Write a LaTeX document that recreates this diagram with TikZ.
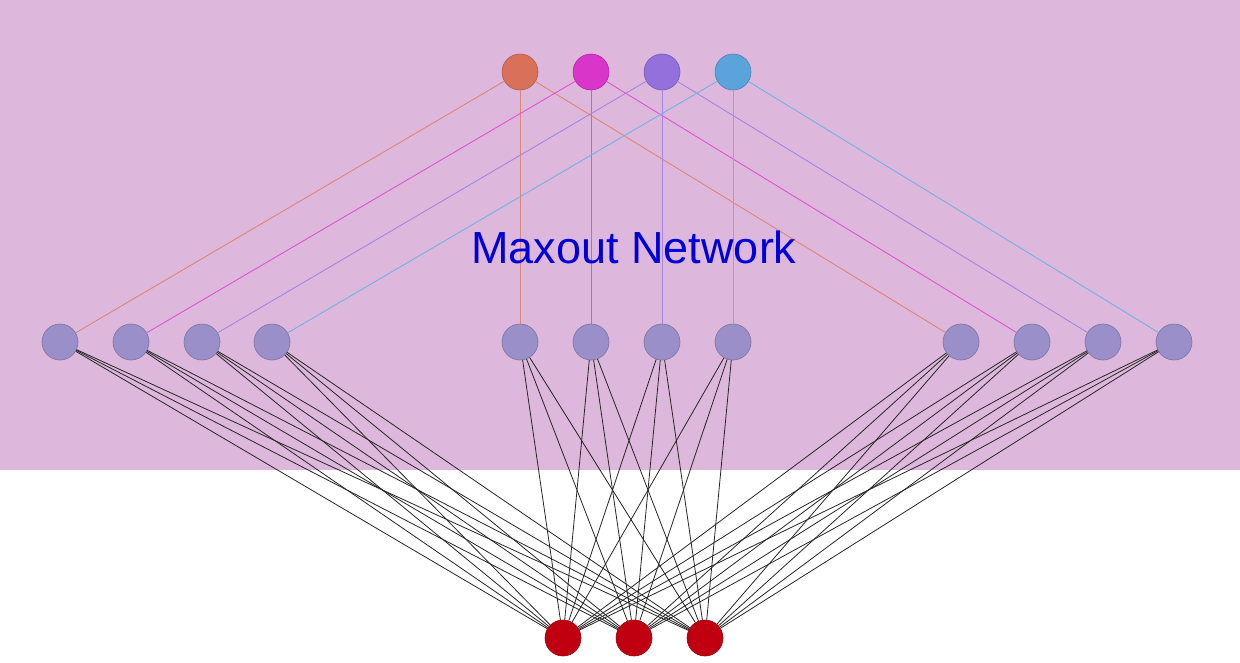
\documentclass[tikz,border=0pt]{standalone}
\usepackage{fontspec}
\setmainfont{Liberation Sans}
\begin{document}
\begin{tikzpicture}[x=1pt,y=-1pt,
  nd/.style={circle,minimum size=36pt,inner sep=0pt,draw=#1!80!black,line width=0.6pt,fill=#1},
  lk/.style={line width=0.9pt}]
\definecolor{bg}{HTML}{DDB8DC}
\definecolor{c1}{HTML}{D9705A}
\definecolor{c2}{HTML}{D935C8}
\definecolor{c3}{HTML}{9370DB}
\definecolor{c4}{HTML}{5BA3DB}
\definecolor{mid}{HTML}{9A8FC8}
\definecolor{red}{HTML}{C00010}
\useasboundingbox (0,0) rectangle (1240,662);
\fill[bg] (0,0) rectangle (1240,470);
\foreach \i/\x in {1/520,2/591,3/662,4/733} \node[nd=c\i] (t\i) at (\x,72) {};
\foreach \i/\x in {1/60,2/131,3/202,4/272,5/520,6/591,7/662,8/733,9/961,10/1032,11/1103,12/1174}
  \node[nd=mid] (m\i) at (\x,342) {};
\foreach \i/\x in {1/563,2/634,3/705} \node[nd=red] (b\i) at (\x,638) {};
\foreach \i in {1,...,4}{
  \pgfmathtruncatemacro\a{\i+4}\pgfmathtruncatemacro\b{\i+8}
  \draw[lk,c\i!85!white] (t\i) -- (m\i);
  \draw[lk,c\i!85!white] (t\i) -- (m\a);
  \draw[lk,c\i!85!white] (t\i) -- (m\b);
}
\foreach \i in {1,...,12} \foreach \j in {1,2,3} \draw[line width=0.8pt,black!85] (m\i) -- (b\j);
\node[text=blue!85!black,font=\fontsize{45}{54}\selectfont] (title) at (634,247) {Maxout Network};
\end{tikzpicture}
\end{document}
